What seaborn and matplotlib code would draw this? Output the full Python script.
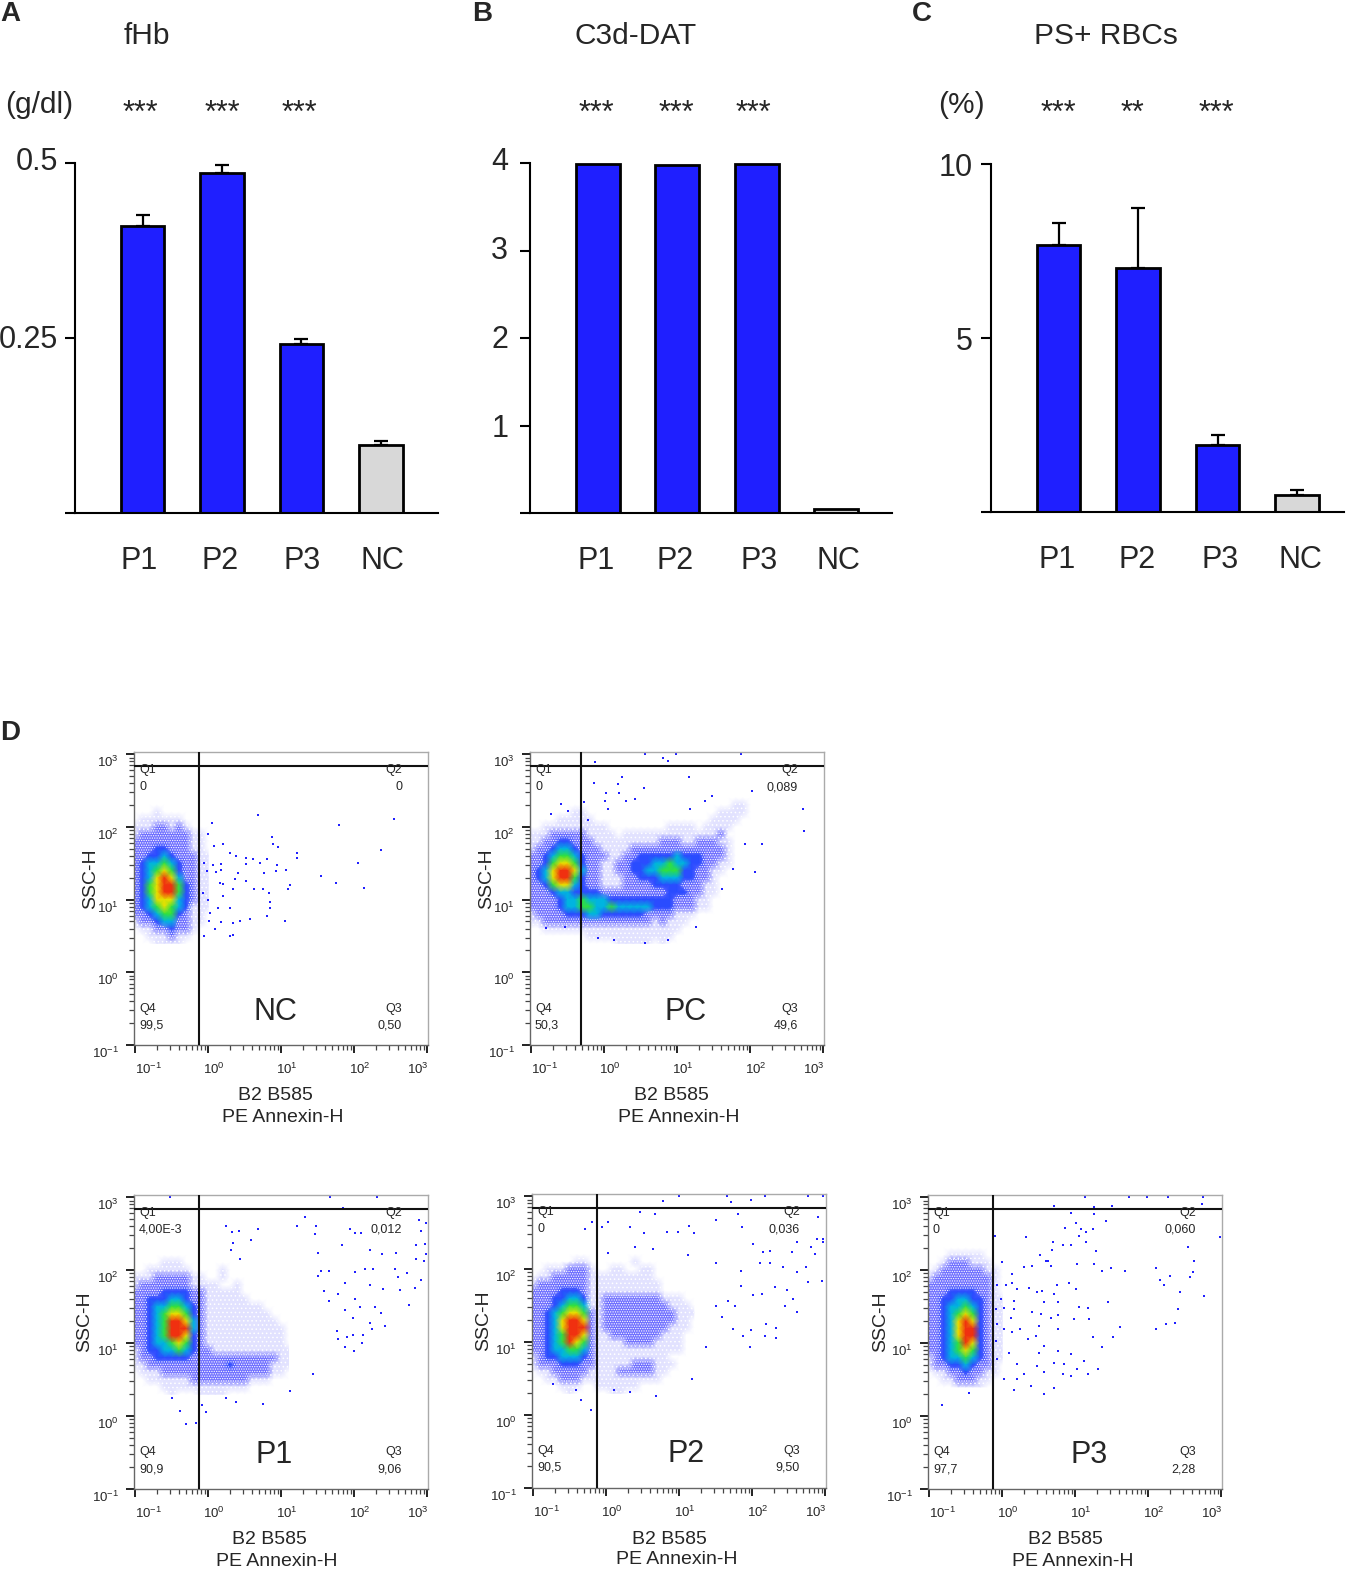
import numpy as np
import pandas as pd
import matplotlib
matplotlib.use('Agg')
import matplotlib.pyplot as plt
from matplotlib.colors import ListedColormap
from matplotlib.ticker import LogLocator, NullFormatter
from matplotlib.transforms import ScaledTranslation
import seaborn as sns

W, H = 1359, 1573

# Bar panels
groups = ['P1', 'P2', 'P3', 'NC']
fhb_vals = [0.41, 0.486, 0.241, 0.097]
fhb_err = [0.016, 0.011, 0.007, 0.006]
c3d_vals = [3.99, 3.98, 3.99, 0.05]
ps_vals = [7.67, 7.01, 1.93, 0.49]
ps_err = [0.63, 1.72, 0.29, 0.14]

# Flow panels: density level read by eye per 0.1 decade cell (0 empty .. 7 red)
# rows run from log y = 2.7 down, columns from log x = -1.0 to the right
nc_rows = [
    "", "", "", "",
    "",
    "00010",
    "011111100",
    "1112212100",
    "12222222110",
    "22222222110",
    "22233222110",
    "22334322211",
    "23445432211",
    "23456532211",
    "23467642211",
    "23567753211",
    "23567753211",
    "23466643211",
    "23456543111",
    "22345532110",
    "12234422110",
    "01122322100",
    "00111211000",
    "00011110000",
]
pc_rows = [
    "", "", "", "",
    "0000000000000000000000000000110",
    "0000001100000000000000000011110",
    "0000111110000000000000000111100",
    "0011111111100000000111101111000",
    "1112222211110111111111111120000",
    "1122332221111111112221122211000",
    "1223443222111122222222222221000",
    "2234554322211223333343332221000",
    "2235665322112233344544332211000",
    "2346776422112233445553322110000",
    "2346775322111223334443322100000",
    "2235664322111222233332221100000",
    "2223443333222222222333221100000",
    "2222344544433333333322211000000",
    "2222344554454444433322211000000",
    "1222233344333333222211100000000",
    "1122222222222222212111000000000",
    "0011111111111111111110000000000",
    "0000000011111111111100000000000",
    "0000000000001111101000000000000",
]
p1_rows = [
    "", "", "", "", "", "",
    "00001110",
    "0011111100001",
    "11122222110010",
    "12222222111100100",
    "22223333221111100",
    "22333443221111110",
    "22344554321111111100",
    "22345665321111111110",
    "223457764211111111110",
    "223457774211111111111",
    "223457763211111111111",
    "223445653211111111111",
    "1233445432211111111111",
    "1223333322222222222211",
    "1122222222222322222111",
    "0111222222222222222110",
    "00111111222222221110",
    "00001111111111110000",
    "00000100011110000",
]
p2_rows = [
    "", "", "", "", "", "",
    "0000001100000010",
    "00111222100110011",
    "0112222211111111100",
    "12222222111111111100",
    "2222333211111111110000",
    "22233443112222222211100",
    "22234554112222222221110",
    "22345665212222222222111",
    "22346776212222222222110",
    "22346777212222222221110",
    "22345776211222222211100",
    "22345765211112222111100",
    "22344554211111111111100",
    "12334443211111111110000",
    "12223332211111222111000",
    "01122222111122222110000",
    "00112221111111111100000",
    "00001110011111100000",
    "0000010000011",
]
p3_rows = [
    "", "", "", "",
    "",
    "00011111",
    "00122211100",
    "0122222211",
    "1222222221",
    "22222222210",
    "22233332210",
    "22334433211",
    "22344543211",
    "22345653211",
    "22346763211",
    "22346773211",
    "22346773211",
    "22345763211",
    "22345653211",
    "12344543211",
    "12233432210",
    "01122322110",
    "00112221100",
    "00001111000",
]

nc_dots = [(0.685, 2.17), (0.05, 2.06), (2.55, 2.11), (1.79, 2.03), (0, 1.9), (0.88, 1.86), (0.89, 1.76),
           (0.95, 1.73), (0.08, 1.74), (0.2, 1.76), (2.36, 1.68), (1.22, 1.64), (1.22, 1.57), (0.3, 1.64),
           (0.38, 1.6), (0.52, 1.57), (0.61, 1.56), (0.81, 1.56), (0.71, 1.5), (0.52, 1.49), (0.94, 1.48),
           (2.05, 1.51), (1.06, 1.41), (0.93, 1.4), (0.76, 1.36), (-0.05, 1.51), (-0.02, 1.4), (0.07, 1.48),
           (0.17, 1.49), (0.11, 1.38), (0.17, 1.41), (0.41, 1.36), (1.55, 1.32), (1.75, 1.23), (2.14, 1.16),
           (1.12, 1.2), (1.1, 1.15), (0.37, 1.28), (0.16, 1.23), (0.21, 1.21), (0.52, 1.26), (0.34, 1.15),
           (0.63, 1.15), (0.75, 1.15), (0.84, 1.09), (0.21, 1.05), (-0.07, 1.09), (0, 0.99), (0.85, 0.96),
           (0.85, 0.89), (0.14, 0.89), (0.3, 0.88), (0.03, 0.82), (0.81, 0.77), (1.05, 0.71), (0.57, 0.73),
           (0.43, 0.7), (0.34, 0.68), (0.18, 0.69), (0.01, 0.71), (0.09, 0.59), (0.3, 0.5), (0.34, 0.51),
           (-0.05, 0.5)]
pc_dots = [(-0.13, 2.89), (0.81, 2.95), (0.88, 2.91), (0.56, 3), (0.99, 3), (1.88, 3), (0.24, 2.69), (1.16, 2.68),
           (-0.14, 2.6), (0.19, 2.59), (0.55, 2.54), (2.02, 2.5), (0.03, 2.47), (0.2, 2.46), (0.3, 2.36),
           (0.42, 2.38), (0.01, 2.36), (-0.27, 2.34), (0.05, 2.25), (2.72, 2.24), (2.74, 1.94), (2.07, 1.38),
           (2.16, 1.76), (1.38, 2.36), (1.47, 2.42), (1.17, 2.24), (0.88, 0.44), (0.56, 0.4), (0.14, 0.44),
           (-0.09, 0.47), (1.26, 0.62), (1.61, 1.15), (1.77, 1.42), (1.93, 1.76), (-0.79, 0.61), (-0.54, 0.62),
           (-0.22, 2.1), (-0.5, 2.22), (-0.59, 2.31), (-0.73, 2.18)]
p1_dots = [(-0.52, 3), (1.67, 3), (2.31, 3), (1.84, 2.85), (1.32, 2.73), (1.21, 2.6), (1.48, 2.61), (1.46, 2.5),
           (0.24, 2.61), (0.33, 2.52), (0.42, 2.54), (0.68, 2.57), (0.58, 2.42), (0.34, 2.37), (0.31, 2.28),
           (0.44, 2.15), (1.94, 2.57), (2.01, 2.51), (2.09, 2.51), (1.83, 2.34), (1.51, 2.24), (2.21, 2.28),
           (2.38, 2.22), (2.57, 2.24), (2.88, 2.69), (2.98, 2.65), (2.91, 2.53), (2.97, 2.36), (2.84, 2.34),
           (2.98, 2.22), (2.84, 2.15), (2.95, 2.12), (1.55, 1.99), (1.66, 1.99), (2.01, 1.98), (2.15, 2.01),
           (2.26, 2.01), (2.56, 2.01), (2.72, 1.96), (2.6, 1.9), (2.92, 1.86), (1.51, 1.92), (1.87, 1.83),
           (2.21, 1.79), (2.4, 1.74), (2.83, 1.75), (2.62, 1.73), (1.58, 1.72), (1.78, 1.67), (1.66, 1.58),
           (2.01, 1.6), (2.08, 1.49), (2.28, 1.5), (1.87, 1.45), (2.75, 1.52), (2.37, 1.41), (1.99, 1.34),
           (2.21, 1.28), (2.42, 1.24), (2.25, 1.19), (1.76, 1.16), (1.9, 1.09), (1.98, 1.11), (2.12, 1.11),
           (1.78, 1.05), (1.87, 0.95), (2.11, 1), (2, 0.89), (1.44, 0.57), (-0.39, 0.07), (-0.3, -0.11),
           (-0.16, -0.09), (-0.03, 0.06), (-0.08, 0.15), (-0.5, 0.25), (0.25, 0.25), (0.38, 0.19), (0.75, 0.17),
           (1.12, 0.35)]
p2_dots = [(0.78, 2.94), (1, 3), (1.71, 2.92), (1.99, 2.95), (2.17, 3), (1.65, 3), (2.77, 3), (2.97, 3), (0.47, 2.79),
           (0.67, 2.76), (1.81, 2.75), (1.51, 2.68), (1.86, 2.58), (2.9, 2.71), (1.14, 2.59), (0.99, 2.51),
           (1.2, 2.49), (0.52, 2.49), (0.33, 2.58), (0.02, 2.64), (-0.05, 2.58), (-0.19, 2.64), (-0.29, 2.55),
           (0.84, 2.51), (2.01, 2.35), (2.15, 2.24), (2.24, 2.25), (2.54, 2.24), (2.81, 2.31), (2.88, 2.41),
           (2.97, 2.41), (2.97, 2.37), (2.86, 2.21), (2.61, 2.37), (0.64, 2.28), (1.12, 2.19), (0.39, 2.3),
           (0.02, 2.22), (1.51, 2.08), (2.1, 2.08), (2.24, 2.08), (2.42, 2.03), (2.74, 2.03), (2.61, 1.96),
           (1.85, 1.98), (2.95, 1.84), (2.77, 1.82), (2.31, 1.75), (2.47, 1.71), (2.56, 1.59), (2.45, 1.5),
           (2.61, 1.41), (2.13, 1.66), (2.01, 1.64), (1.85, 1.77), (1.67, 1.57), (1.76, 1.5), (1.51, 1.5),
           (2.19, 1.25), (2.33, 1.2), (2.33, 1.06), (2.17, 1.09), (1.99, 1.16), (1.87, 1.08), (1.97, 0.93),
           (1.74, 1.18), (1.58, 1.35), (1.37, 0.93), (1.17, 0.49), (0.68, 0.26), (0.33, 0.31), (0.11, 0.35),
           (-0.35, 0.21), (-0.21, 0.07), (-0.41, 0.35), (-0.73, 0.43)]
p3_dots = [(1.13, 3), (1.73, 3), (1.99, 3), (2.27, 3), (2.75, 3), (1.26, 2.86), (1.5, 2.88), (2.73, 2.91), (0.71, 2.88),
           (0.94, 2.79), (1.26, 2.77), (1.42, 2.68), (1.01, 2.65), (0.86, 2.58), (1.08, 2.57), (1.15, 2.52),
           (1.24, 2.56), (1.15, 2.38), (0.69, 2.39), (0.94, 2.35), (1.05, 2.47), (0.32, 2.46), (-0.1, 2.47),
           (2.98, 2.46), (0.83, 2.34), (0.68, 2.27), (1.28, 2.26), (2.55, 2.32), (0.52, 2.21), (0.6, 2.12),
           (0.63, 2.12), (1.03, 2.08), (1.26, 2.09), (2.62, 2.12), (0.41, 2.06), (0.3, 2.04), (0, 2.11),
           (0.67, 2.06), (1.37, 1.99), (1.49, 2.03), (1.68, 1.99), (2.11, 2.03), (2.3, 1.92), (2.61, 1.98),
           (2.57, 1.9), (2.16, 1.86), (2.21, 1.8), (2.44, 1.7), (2.77, 1.65), (2.41, 1.47), (2.36, 1.27),
           (2.25, 1.26), (2.1, 1.19), (1.61, 1.22), (1.52, 1.09), (1.45, 1.57), (1.17, 1.48), (1.05, 1.49),
           (0.92, 1.82), (1.01, 1.74), (0.75, 1.8), (0.13, 1.95), (0.14, 1.82), (0.05, 1.79), (-0.07, 1.79),
           (0.21, 1.74), (0.37, 1.76), (0.48, 1.7), (0.55, 1.72), (0.71, 1.67), (0.57, 1.56), (0.76, 1.56),
           (0.16, 1.58), (-0.02, 1.6), (0.03, 1.48), (0.16, 1.47), (-0.09, 1.47), (0.41, 1.42), (0.53, 1.4),
           (0.67, 1.35), (0.76, 1.38), (0.99, 1.33), (1.19, 1.33), (0.12, 1.35), (-0.07, 1.26), (0.14, 1.15),
           (0.03, 1.19), (0.25, 1.19), (0.51, 1.24), (0.46, 1.1), (0.76, 1.19), (1.24, 1.08), (1.37, 0.95),
           (0.35, 1.05), (-0.09, 1.03), (0.57, 0.96), (0.09, 0.87), (0.76, 0.89), (0.94, 0.85), (0.51, 0.87),
           (1.12, 0.76), (-0.07, 0.78), (0.21, 0.71), (0.48, 0.69), (0.71, 0.73), (0.85, 0.71), (1.03, 0.64),
           (1.31, 0.64), (0.3, 0.57), (0.57, 0.6), (0.83, 0.57), (0.94, 0.55), (1.17, 0.57), (0.03, 0.51),
           (0.21, 0.51), (0.39, 0.41), (0.57, 0.3), (0.16, 0.36), (0.71, 0.39), (-0.82, 0.15), (-0.46, 0.32)]

sns.set_style('white')
plt.rcParams['font.family'] = ['Liberation Sans', 'DejaVu Sans']
plt.rcParams['mathtext.default'] = 'regular'
plt.rcParams['hatch.color'] = '#1c1cff'
plt.rcParams['hatch.linewidth'] = 0.6

BLUE = '#1f1fff'
GREY = '#d8d8d8'
flow_cmap = ListedColormap(['#ffffff', '#e2e2ff', '#7070ff', '#2a4cff',
                            '#00b4e0', '#30e040', '#e8e000', '#f03010'])

fig = plt.figure(figsize=(W / 100, H / 100), dpi=100)


def add_axes(left, top, right, bottom):
    return fig.add_axes([left / W, 1 - bottom / H, (right - left) / W, (bottom - top) / H])


def put(x, y, s, size, **kw):
    kw.setdefault('va', 'center')
    fig.text(x / W, 1 - y / H, s, fontsize=size, **kw)


def shift(label, dx, dy):
    label.set_transform(label.get_transform() + ScaledTranslation(dx / 100, dy / 100, fig.dpi_scale_trans))


def bar_panel(box, vals, err, yticks, yticklabels, x_range, yshift, xshift):
    ax = add_axes(*box)
    df = pd.DataFrame({'group': groups, 'value': vals})
    if err is not None:
        ax.errorbar(range(4), vals, yerr=[[0] * 4, err], fmt='none', ecolor='black',
                    elinewidth=1.6, capsize=5, capthick=1.6, zorder=1)
    sns.barplot(data=df, x='group', y='value', hue='group', ax=ax, width=0.55, saturation=1,
                palette=[BLUE, BLUE, BLUE, GREY], edgecolor='black', linewidth=2, legend=False,
                errorbar=None, zorder=2)
    ax.set_xlim(*x_range)
    ax.set_ylim(0, yticks[-1])
    ax.set_xlabel('')
    ax.set_ylabel('')
    ax.set_yticks(yticks)
    ax.set_yticklabels(yticklabels, fontsize=22)
    ax.tick_params(axis='y', left=True, length=7, width=1.5, pad=5, color='black')
    ax.tick_params(axis='x', bottom=False, labelsize=22, pad=20)
    for lab, (dx, dy) in zip(ax.get_yticklabels(), yshift):
        shift(lab, dx, dy)
    for lab, dx in zip(ax.get_xticklabels(), xshift):
        shift(lab, dx, 0)
    for s in ['top', 'right']:
        ax.spines[s].set_visible(False)
    for s in ['left', 'bottom']:
        ax.spines[s].set_linewidth(1.5)
        ax.spines[s].set_color('black')
    ax.patch.set_alpha(0)
    return ax


bar_panel((75, 163, 438, 513), fhb_vals, fhb_err, [0, 0.25, 0.5], ['', '0.25', '0.5'], (-0.85, 3.72),
          [(0, 0), (0, 2), (0, 4)], [-3, -2, 1, 2])
bar_panel((530, 163, 892, 513), c3d_vals, None, [0, 1, 2, 3, 4], ['', '1', '2', '3', '4'], (-0.85, 3.7),
          [(0, 0), (-5, 0), (-5, 2), (-5, 3), (-5, 4)], [-2, -2, 2, 2])
bar_panel((991, 164, 1344, 512), ps_vals, ps_err, [0, 5, 10], ['', '5', '10'], (-0.85, 3.59),
          [(0, 0), (-2, 0), (-2, 0)], [-1, -1, 3, 3])

# Panel letters, titles, units and significance stars
put(0, 14, 'A', 20, fontweight='bold')
put(472, 14, 'B', 20, fontweight='bold')
put(912, 14, 'C', 20, fontweight='bold')
put(0, 733, 'D', 20, fontweight='bold')
put(124, 36, 'fHb', 21.5)
put(574, 36, 'C3d-DAT', 21.5)
put(1034, 36, 'PS+ RBCs', 21.5)
put(5, 105, '(g/dl)', 21.5)
put(938, 105, '(%)', 21.5)
for x, s in [(140, '***'), (222, '***'), (299, '***'), (596, '***'), (676, '***'), (753, '***'),
             (1058, '***'), (1132, '**'), (1216, '***')]:
    put(x, 114, s, 22, ha='center')


def flow_panel(box, rows, dots, gate_x, name, name_x, q_vals, lab_x, ssc_x):
    left, top, right, bottom = box
    ax = add_axes(*box)
    ax.set_xscale('log')
    ax.set_yscale('log')
    cols = max(len(r) for r in rows)
    grid = np.array([[int(c) for c in r.ljust(cols, '0')] for r in rows])
    xc = 10.0 ** (-1.0 + 0.1 * np.arange(cols))
    yc = 10.0 ** (2.7 - 0.1 * np.arange(len(rows)))
    ax.pcolormesh(xc, yc, grid, shading='gouraud', cmap=flow_cmap, vmin=-0.5, vmax=7.5, zorder=1)
    # stipple for the thin parts of the cloud
    ax.contourf(xc, yc, grid, levels=[0.5, 1.5, 2.6], hatches=['....', '.......'], colors='none', zorder=1.5)
    dx, dy = zip(*dots)
    sns.scatterplot(x=10.0 ** np.array(dx), y=10.0 ** np.array(dy), ax=ax, s=3, color='#2020ff',
                    marker='s', linewidth=0, zorder=2)
    ax.axvline(10.0 ** gate_x, color='#111111', lw=1.5, zorder=3)
    ax.axhline(10.0 ** 2.84, color='#111111', lw=1.5, zorder=3)
    ax.set_xlim(10.0 ** -1.015, 10.0 ** 3.01)
    ax.set_ylim(10.0 ** -1.0, 10.0 ** 3.03)
    majors = [0.1, 1, 10, 100, 1000]
    labels = ['$10^{-1}$', '$10^{0}$', '$10^{1}$', '$10^{2}$', '$10^{3}$']
    for axis in (ax.xaxis, ax.yaxis):
        axis.set_major_locator(LogLocator(base=10, numticks=6))
        axis.set_minor_locator(LogLocator(base=10, subs=range(2, 10), numticks=12))
        axis.set_minor_formatter(NullFormatter())
    ax.set_xticks(majors)
    ax.set_xticklabels(labels, fontsize=9.5)
    ax.set_yticks(majors)
    ax.set_yticklabels(labels, fontsize=9.5)
    ax.tick_params(which='major', bottom=True, left=True, length=6, width=1.4, pad=5, color='#222222')
    ax.tick_params(axis='x', which='major', pad=6)
    ax.tick_params(which='minor', bottom=True, left=True, length=3.5, width=0.9, color='#444444')
    for lab, sx in zip(ax.get_xticklabels(), [13, 6, 6, 6, -9]):
        shift(lab, sx, 0)
    for lab in ax.get_yticklabels():
        shift(lab, 0, -7)
    for s in ['top', 'right']:
        ax.spines[s].set_color('#aaaaaa')
        ax.spines[s].set_linewidth(1)
    for s in ['left', 'bottom']:
        ax.spines[s].set_color('#666666')
        ax.spines[s].set_linewidth(1)

    # quadrant labels
    q1, q2, q4, q3 = q_vals
    put(left + 5, top + 18, 'Q1', 9)
    put(left + 5, top + 35, q1, 9)
    put(right - 26, top + 18, 'Q2', 9, ha='right')
    put(right - 26, top + 35, q2, 9, ha='right')
    put(left + 5, top + 257, 'Q4', 9)
    put(left + 5, top + 274, q4, 9)
    put(right - 26, top + 257, 'Q3', 9, ha='right')
    put(right - 26, top + 274, q3, 9, ha='right')
    put(name_x, top + 260, name, 22, ha='center')
    put(lab_x, bottom + 51, 'B2 B585', 14, ha='center')
    put(lab_x + 8, bottom + 72, 'PE Annexin-H', 14, ha='center')
    put(ssc_x, (top + bottom) / 2 - 20, 'SSC-H', 14, ha='center', rotation=90)


flow_panel((134, 752, 428, 1045), nc_rows, nc_dots, -0.12, 'NC', 275, ('0', '0', '99,5', '0,50'), 275, 91)
flow_panel((530, 752, 824, 1045), pc_rows, pc_dots, -0.32, 'PC', 686, ('0', '0,089', '50,3', '49,6'), 671, 487)
flow_panel((134, 1195, 428, 1489), p1_rows, p1_dots, -0.12, 'P1', 274, ('4,00E-3', '0,012', '90,9', '9,06'), 269, 85)
flow_panel((532, 1194, 826, 1488), p2_rows, p2_dots, -0.13, 'P2', 686, ('0', '0,036', '90,5', '9,50'), 669, 484)
flow_panel((928, 1195, 1222, 1489), p3_rows, p3_dots, -0.12, 'P3', 1089, ('0', '0,060', '97,7', '2,28'), 1065, 881)

fig.savefig('out.png', dpi=100)
